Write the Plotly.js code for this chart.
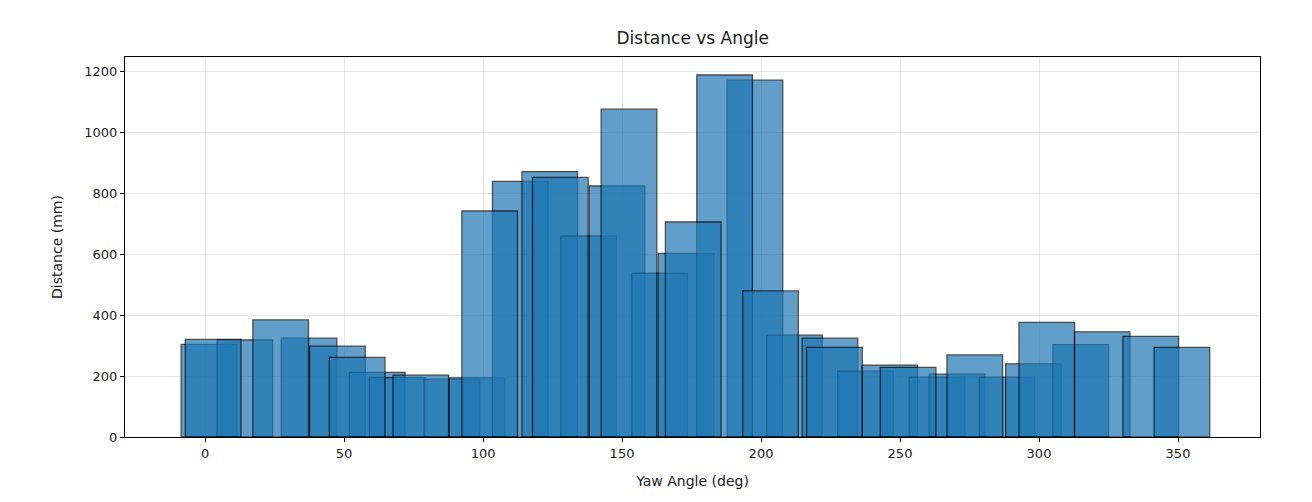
<!DOCTYPE html>
<html>
<head>
<meta charset="utf-8">
<script src="https://cdn.plot.ly/plotly-3.0.1.min.js"></script>
<style>
  html, body { margin: 0; padding: 0; background: #fff; }
  #chart { width: 1312px; height: 502px; }
</style>
</head>
<body>
<div id="chart"></div>
<script>
// first sweep (drawn underneath)
var angles_a = [1.4, 14.3, 37.4, 47.6, 61.9, 69.1, 88.8, 97.8, 113.4, 124.0, 138.0, 148.2, 163.5, 173.0,
                197.8, 186.9, 212.0, 224.8, 237.6, 246.3, 263.3, 270.5, 288.5, 298.0, 315.0, 322.7, 340.2];
var dist_a = [304, 318, 324, 298, 212, 195, 190, 194, 838, 870, 659, 823, 537, 602,
              1170, 1187, 334, 324, 216, 236, 196, 206, 196, 240, 303, 345, 330];

// second sweep (drawn on top)
var angles_b = [2.9, 27.2, 54.7, 77.6, 102.4, 127.8, 152.5, 175.6, 203.4, 226.4, 252.9, 276.9, 302.8, 351.4];
var dist_b = [320, 384, 261, 203, 741, 851, 1075, 705, 479, 294, 228, 269, 376, 294];

var barWidth = 20;
var xTicks = [0, 50, 100, 150, 200, 250, 300, 350];
var yTicks = [0, 200, 400, 600, 800, 1000, 1200];

var barStyle = {
    color: '#1f77b4',
    opacity: 0.7,
    line: { color: '#000000', width: 1.3 }
};

var traces = [
    { type: 'bar', x: angles_a, y: dist_a, width: barWidth, marker: barStyle, hoverinfo: 'x+y' },
    { type: 'bar', x: angles_b, y: dist_b, width: barWidth, marker: barStyle, hoverinfo: 'x+y' }
];

var axisCommon = {
    showline: true,
    mirror: true,
    linecolor: '#000000',
    linewidth: 1,
    ticks: 'outside',
    ticklen: 4,
    tickcolor: '#000000',
    showgrid: true,
    gridcolor: 'rgba(176,176,176,0.3)',
    gridwidth: 1,
    zeroline: false,
    tickfont: { family: 'DejaVu Sans', size: 13, color: '#1a1a1a' }
};

var layout = {
    width: 1312,
    height: 502,
    paper_bgcolor: '#ffffff',
    plot_bgcolor: '#ffffff',
    barmode: 'overlay',
    showlegend: false,
    margin: { l: 125, r: 52, t: 57, b: 65 },
    font: { family: 'DejaVu Sans', color: '#1a1a1a' },
    title: {
        text: 'Distance vs Angle',
        font: { family: 'DejaVu Sans', size: 17, color: '#1a1a1a' },
        x: 0.528, xanchor: 'center',
        y: 0.924, yref: 'container', yanchor: 'middle'
    },
    xaxis: Object.assign({}, axisCommon, {
        range: [-28.8, 379.5],
        tickvals: xTicks,
        title: { text: 'Yaw Angle (deg)', font: { family: 'DejaVu Sans', size: 14 }, standoff: 16 }
    }),
    yaxis: Object.assign({}, axisCommon, {
        range: [0, 1246],
        tickvals: yTicks,
        title: { text: 'Distance (mm)', font: { family: 'DejaVu Sans', size: 14 }, standoff: 18 }
    })
};

document.addEventListener('DOMContentLoaded', function() {
    Plotly.newPlot('chart', traces, layout, { staticPlot: true });
});
</script>
</body>
</html>
